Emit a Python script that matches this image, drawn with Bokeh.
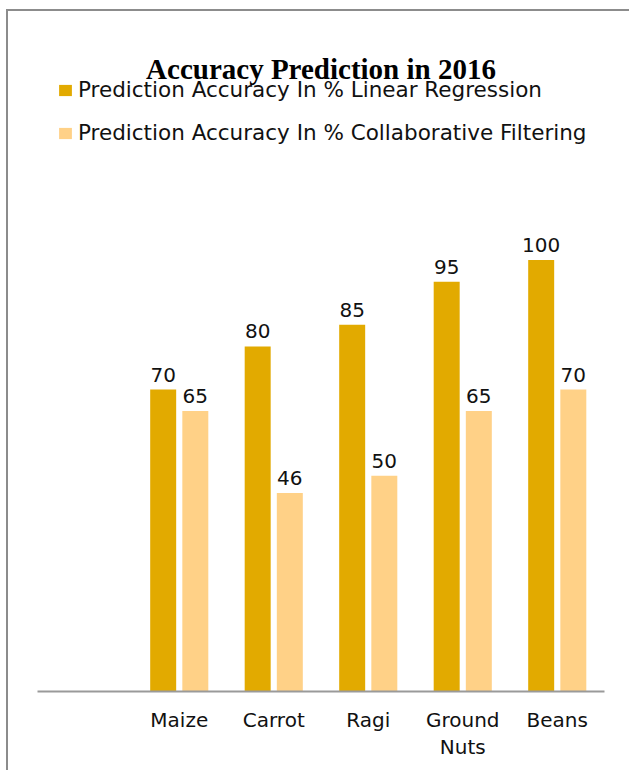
import json

from bokeh.plotting import figure
from bokeh.models import (FactorRange, Range1d, ColumnDataSource, Legend,
                          LegendItem, CategoricalAxis, Label,
                          CustomJSTickFormatter)
from bokeh.transform import dodge
from bokeh.core.properties import value
from bokeh.embed import file_html
from bokeh.resources import INLINE

# --- data -------------------------------------------------------------
crops = ["Maize", "Carrot", "Ragi", "Ground Nuts", "Beans"]
linear_regression = [70, 80, 85, 95, 100]
collaborative_filtering = [65, 46, 50, 65, 70]
series_names = [
    "Prediction Accuracy In % Linear Regression",
    "Prediction Accuracy In % Collaborative Filtering",
]
chart_title = "Accuracy Prediction in 2016"
# long category names are wrapped onto two lines
label_line1 = {"Ground Nuts": "Ground"}
label_line2 = {"Ground Nuts": "Nuts"}

# --- style / layout ---------------------------------------------------
DARK = "#E2AA00"
LIGHT = "#FFD187"
AXIS_GREY = "#9a9a9a"
FRAME_GREY = "#8c8c8c"
SANS = "DejaVu Sans"

W, H = 621, 759                     # canvas, offset by the page margin
B_LEFT, B_RIGHT, B_TOP, B_BOTTOM = 29, 25, 46, 79
FRAME_W = W - B_LEFT - B_RIGHT
FRAME_H = H - B_TOP - B_BOTTOM
PX_PER_UNIT = 4.314
y_end = FRAME_H / PX_PER_UNIT

factors = [" "] + crops   # leading empty slot keeps the bars to the right
src = ColumnDataSource(dict(
    crop=crops,
    lr=linear_regression,
    cf=collaborative_filtering,
    lr_txt=[str(v) for v in linear_regression],
    cf_txt=[str(v) for v in collaborative_filtering],
))

p = figure(
    width=W, height=H,
    x_range=FactorRange(factors=factors, range_padding=0),
    y_range=Range1d(0, y_end),
    output_backend="svg", toolbar_location=None,
    y_axis_location=None, title_location=None,
    min_border_left=B_LEFT, min_border_right=B_RIGHT,
    min_border_top=B_TOP, min_border_bottom=B_BOTTOM,
)
p.margin = (11, 0, 0, 8)
p.styles = {"outline": f"2px solid {FRAME_GREY}"}
p.outline_line_color = None
p.xgrid.visible = False
p.ygrid.visible = False
p.background_fill_color = "white"
p.border_fill_color = "white"

OFF, BW = 0.17, 0.275
r_lr = p.vbar(x=dodge("crop", -OFF, range=p.x_range), top="lr", width=BW,
              source=src, fill_color=DARK, line_color=None)
r_cf = p.vbar(x=dodge("crop", OFF, range=p.x_range), top="cf", width=BW,
              source=src, fill_color=LIGHT, line_color=None)

for col, off in (("lr", -OFF), ("cf", OFF)):
    p.text(x=dodge("crop", off, range=p.x_range), y=col, text=col + "_txt",
           text_align="center", text_baseline="alphabetic", y_offset=-15,
           text_font=value(SANS), text_font_size="20px",
           text_color="#111111", source=src)

# category axis (first line of each label)
ax = p.xaxis[0]
ax.axis_line_color = AXIS_GREY
ax.axis_line_width = 2
ax.major_tick_line_color = None
ax.minor_tick_line_color = None
ax.major_tick_out = 0
ax.major_tick_in = 0
ax.major_label_standoff = 16
ax.major_label_text_font = SANS
ax.major_label_text_font_size = "20px"
ax.major_label_text_color = "#111111"
ax.formatter = CustomJSTickFormatter(
    code=f"const m = {json.dumps(label_line1)}; return (tick in m) ? m[tick] : tick;")

# second line of the wrapped category labels
ax2 = CategoricalAxis(
    axis_line_color=None, major_tick_line_color=None,
    minor_tick_line_color=None, major_tick_out=0, major_tick_in=0,
    major_label_standoff=0, major_label_text_font=SANS,
    major_label_text_font_size="20px", major_label_text_color="#111111",
    formatter=CustomJSTickFormatter(
        code=f"const m = {json.dumps(label_line2)}; return (tick in m) ? m[tick] : '';"),
)
p.add_layout(ax2, "below")

legend = Legend(
    items=[LegendItem(label=series_names[0], renderers=[r_lr]),
           LegendItem(label=series_names[1], renderers=[r_cf])],
    location="top_left", orientation="vertical",
    margin=20, padding=0, spacing=18,
    glyph_width=16, glyph_height=14, label_standoff=5,
    label_text_font=SANS, label_text_font_size="21.5px",
    label_text_color="#111111",
    border_line_color=None, background_fill_alpha=0,
)
p.add_layout(legend)

# chart title, centred over the plotting area
p.add_layout(Label(
    x=FRAME_W / 2, y=FRAME_H - 11, x_units="screen", y_units="screen",
    text=chart_title, text_align="center", text_baseline="alphabetic",
    text_font="Liberation Serif", text_font_style="bold",
    text_font_size="29px", text_color="#000000",
))

open("out.html", "w").write(file_html(p, INLINE))
